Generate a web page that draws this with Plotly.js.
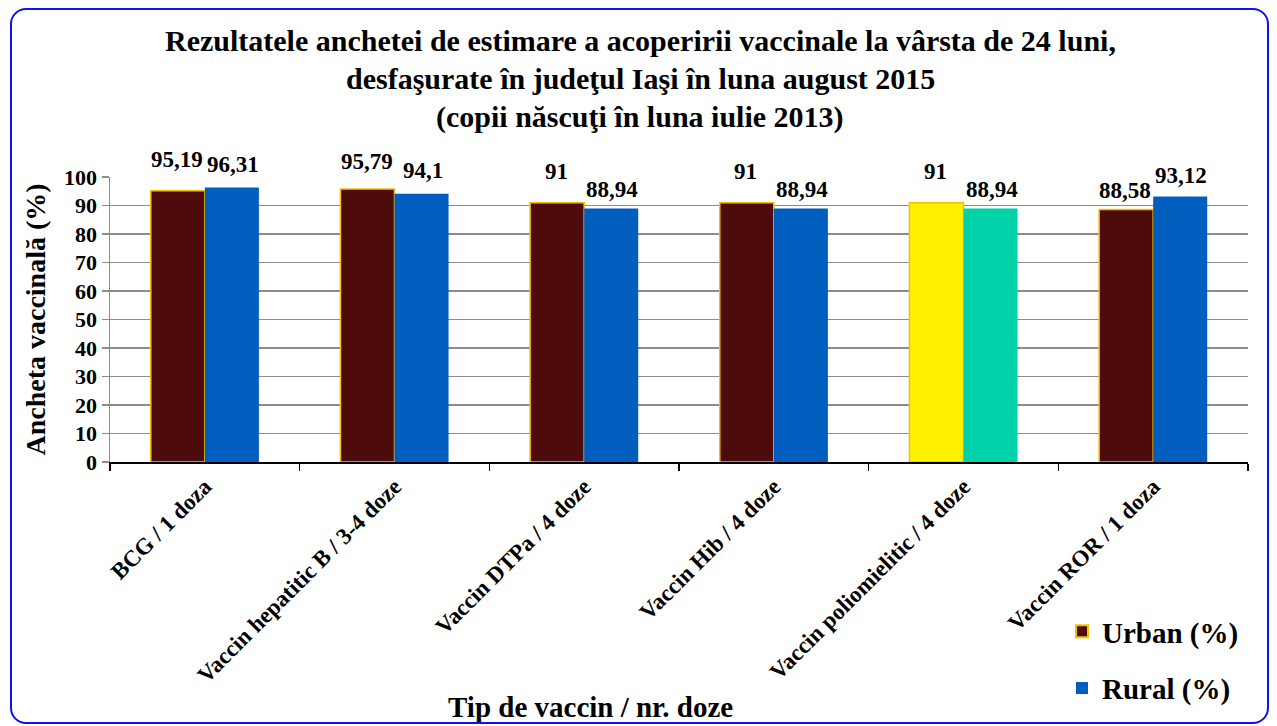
<!DOCTYPE html>
<html>
<head>
<meta charset="utf-8">
<script src="https://cdn.plot.ly/plotly-3.0.1.min.js"></script>
<style>
  html, body { margin: 0; padding: 0; background: #ffffff; }
  #wrap { position: relative; width: 1277px; height: 726px; }
  #chart { position: absolute; left: 0; top: 0; width: 1277px; height: 726px; }
  #frame { position: absolute; left: 10px; top: 8px; width: 1255px; height: 712px;
           border: 2.5px solid #1010F0; border-radius: 16px; pointer-events: none; }
</style>
</head>
<body>
<div id="wrap">
  <div id="chart"></div>
  <div id="frame"></div>
</div>
<script>
const categories = [
  "BCG / 1 doza",
  "Vaccin hepatitic B / 3-4 doze",
  "Vaccin DTPa / 4 doze",
  "Vaccin Hib / 4 doze",
  "Vaccin poliomielitic / 4 doze",
  "Vaccin ROR / 1 doza"
];
const urban = [95.19, 95.79, 91, 91, 91, 88.58];
const rural = [96.31, 94.1, 88.94, 88.94, 88.94, 93.12];
const urbanLabels = ["95,19", "95,79", "91", "91", "91", "88,58"];
const ruralLabels = ["96,31", "94,1", "88,94", "88,94", "88,94", "93,12"];
const titleLines = [
  "Rezultatele anchetei de estimare a acoperirii vaccinale la vârsta de 24 luni,",
  "desfaşurate în judeţul Iaşi în luna august 2015",
  "(copii născuţi în luna iulie 2013)"
];
const yTicks = [0, 10, 20, 30, 40, 50, 60, 70, 80, 90, 100];

const FONT = "Liberation Serif, Times New Roman, serif";
const urbanColors = categories.map((c, i) => i === 4 ? "#FFF200" : "#4E0B0B");
const ruralColors = categories.map((c, i) => i === 4 ? "#00D3A9" : "#005EBF");

const traces = [
  {
    type: "bar", name: "Urban (%)", x: categories, y: urban, legendgroup: "u",
    marker: { color: urbanColors, line: { color: "#F5C000", width: 1.5 } },
    hoverinfo: "skip"
  },
  {
    type: "bar", name: "Rural (%)", x: categories, y: rural, legendgroup: "r",
    marker: { color: ruralColors, line: { width: 0 } },
    hoverinfo: "skip"
  }
];

// plot area: top 177px, bottom 462px (285px tall), left 110px, width 1138px
const py = p => (462 - p) / 285;
const px = p => (p - 110) / 1138;

const annotations = [];
const titleY = [40, 78, 117];
titleLines.forEach((t, i) => {
  annotations.push({
    xref: "paper", yref: "paper", x: px(640), y: py(titleY[i]),
    xanchor: "center", yanchor: "middle", showarrow: false,
    text: "<b>" + t + "</b>", font: { family: FONT, size: 30, color: "#000" }
  });
});
const urbanShift = [31, 28, 31, 31, 31, 19];
const ruralShift = [23, 23, 19, 19, 19, 21];
categories.forEach((c, i) => {
  annotations.push({
    x: c, y: urban[i], xref: "x", yref: "y", xshift: -28, yshift: urbanShift[i],
    showarrow: false, xanchor: "center", yanchor: "middle",
    text: "<b>" + urbanLabels[i] + "</b>", font: { family: FONT, size: 23, color: "#000" }
  });
  annotations.push({
    x: c, y: rural[i], xref: "x", yref: "y", xshift: 28, yshift: ruralShift[i],
    showarrow: false, xanchor: "center", yanchor: "middle",
    text: "<b>" + ruralLabels[i] + "</b>", font: { family: FONT, size: 23, color: "#000" }
  });
});
annotations.push({
  xref: "paper", yref: "paper", x: px(590), y: py(707),
  xanchor: "center", yanchor: "middle", showarrow: false,
  text: "<b>Tip de vaccin / nr. doze</b>", font: { family: FONT, size: 29, color: "#000" }
});

const layout = {
  width: 1277, height: 726,
  margin: { l: 110, r: 29, t: 177, b: 264 },
  paper_bgcolor: "rgba(0,0,0,0)", plot_bgcolor: "#ffffff",
  font: { family: FONT, color: "#000" },
  barmode: "group", bargap: 0.43, bargroupgap: 0,
  showlegend: true,
  legend: {
    x: px(1062), y: py(606), xanchor: "left", yanchor: "top",
    font: { family: FONT, size: 29, color: "#000", weight: "bold" },
    bgcolor: "rgba(0,0,0,0)", itemsizing: "constant", tracegroupgap: 16,
    traceorder: "grouped"
  },
  xaxis: {
    type: "category", tickangle: -45,
    tickfont: { family: FONT, size: 23, color: "#000", weight: "bold" },
    showline: true, linecolor: "#000", linewidth: 2,
    ticks: "outside", tickson: "boundaries", ticklen: 7, tickcolor: "#000", tickwidth: 1.5,
    showgrid: false, automargin: false
  },
  yaxis: {
    range: [0, 100], tickvals: yTicks, ticktext: yTicks.map(String),
    tickfont: { family: FONT, size: 22, color: "#000", weight: "bold" },
    showgrid: true, gridcolor: "#8C8C8C", gridwidth: 1.5,
    showline: true, linecolor: "#8C8C8C", linewidth: 1.5,
    ticks: "outside", ticklen: 7, tickcolor: "#8C8C8C", tickwidth: 1.5,
    zeroline: false, automargin: false,
    title: { text: "<b>Ancheta vaccinală (%)</b>", font: { family: FONT, size: 28, color: "#000" }, standoff: 10 }
  },
  annotations: annotations
};

Plotly.newPlot("chart", traces, layout, { displayModeBar: false, staticPlot: true });
</script>
</body>
</html>
